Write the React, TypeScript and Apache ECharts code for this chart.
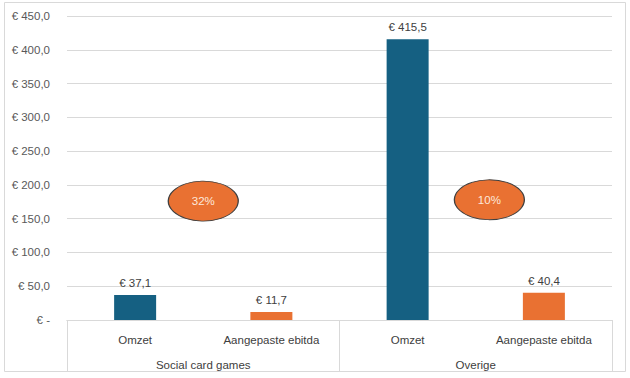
import React, { useEffect, useRef } from "react";
import * as echarts from "echarts";

const categories = ["Omzet", "Aangepaste ebitda", "Omzet", "Aangepaste ebitda"];
const groups = ["Social card games", "Overige"];
const values = [37.1, 11.7, 415.5, 40.4];
const barColors = ["#156082", "#e97132", "#156082", "#e97132"];
const ratioLabels = ["32%", "10%"];
const ratioX = [1.0, 3.1];
const ratioY = [176, 178];

const fmt = (v: number) => (v === 0 ? "€ -" : "€ " + v.toFixed(1).replace(".", ","));

export default function App() {
  const ref = useRef<HTMLDivElement>(null);
  useEffect(() => {
    const chart = echarts.init(ref.current!, null, { renderer: "svg" });
    const font = "Liberation Sans";
    chart.setOption({
      animation: false,
      backgroundColor: "#ffffff",
      textStyle: { fontFamily: font },
      grid: { left: 67, right: 18, top: 16, bottom: 58, containLabel: false },
      graphic: [
        {
          type: "rect",
          shape: { x: 4.5, y: 2.5, width: 621, height: 369 },
          style: { fill: "none", stroke: "#d9d9d9", lineWidth: 1 },
          silent: true,
          z: -10,
        },
      ],
      xAxis: [
        {
          type: "category",
          data: categories,
          position: "bottom",
          axisLine: { show: true, lineStyle: { color: "#d9d9d9" } },
          axisTick: { show: false },
          axisLabel: { color: "#404040", fontSize: 11.5, margin: 14, fontFamily: font },
          splitLine: { show: false },
        },
        {
          type: "category",
          data: groups,
          position: "bottom",
          axisLine: { show: true, lineStyle: { color: "#d9d9d9" } },
          axisTick: { show: true, length: 52, lineStyle: { color: "#d9d9d9" } },
          axisLabel: { color: "#404040", fontSize: 11.5, margin: 39, fontFamily: font },
          splitLine: { show: false },
        },
        {
          type: "value",
          min: 0,
          max: 4,
          show: false,
        },
      ],
      yAxis: {
        type: "value",
        min: 0,
        max: 450,
        interval: 50,
        axisLine: { show: false },
        axisTick: { show: false },
        axisLabel: {
          color: "#595959",
          fontSize: 11.5,
          margin: 17,
          fontFamily: font,
          formatter: (v: number) => fmt(v),
        },
        splitLine: { lineStyle: { color: "#d9d9d9", width: 1 } },
      },
      series: [
        {
          type: "bar",
          xAxisIndex: 0,
          barWidth: 42,
          data: values.map((v, i) => ({ value: v, itemStyle: { color: barColors[i] } })),
          label: {
            show: true,
            position: "top",
            distance: 6,
            color: "#404040",
            fontSize: 11.5,
            fontFamily: font,
            formatter: (p: any) => fmt(p.value),
          },
        },
        {
          type: "scatter",
          xAxisIndex: 2,
          symbol: "circle",
          symbolSize: [70, 40],
          itemStyle: { color: "#e97132", borderColor: "#404040", borderWidth: 1, opacity: 1 },
          data: ratioX.map((x, i) => ({ value: [x, ratioY[i]], name: ratioLabels[i] })),
          label: {
            show: true,
            position: "inside",
            color: "#fde9dc",
            fontSize: 11.5,
            fontFamily: font,
            formatter: (p: any) => p.name,
          },
          z: 5,
        },
      ],
    });
    return () => chart.dispose();
  }, []);
  return (
    <div
      ref={ref}
      style={{ position: "fixed", left: 0, top: 0, width: 630, height: 378 }}
    />
  );
}
